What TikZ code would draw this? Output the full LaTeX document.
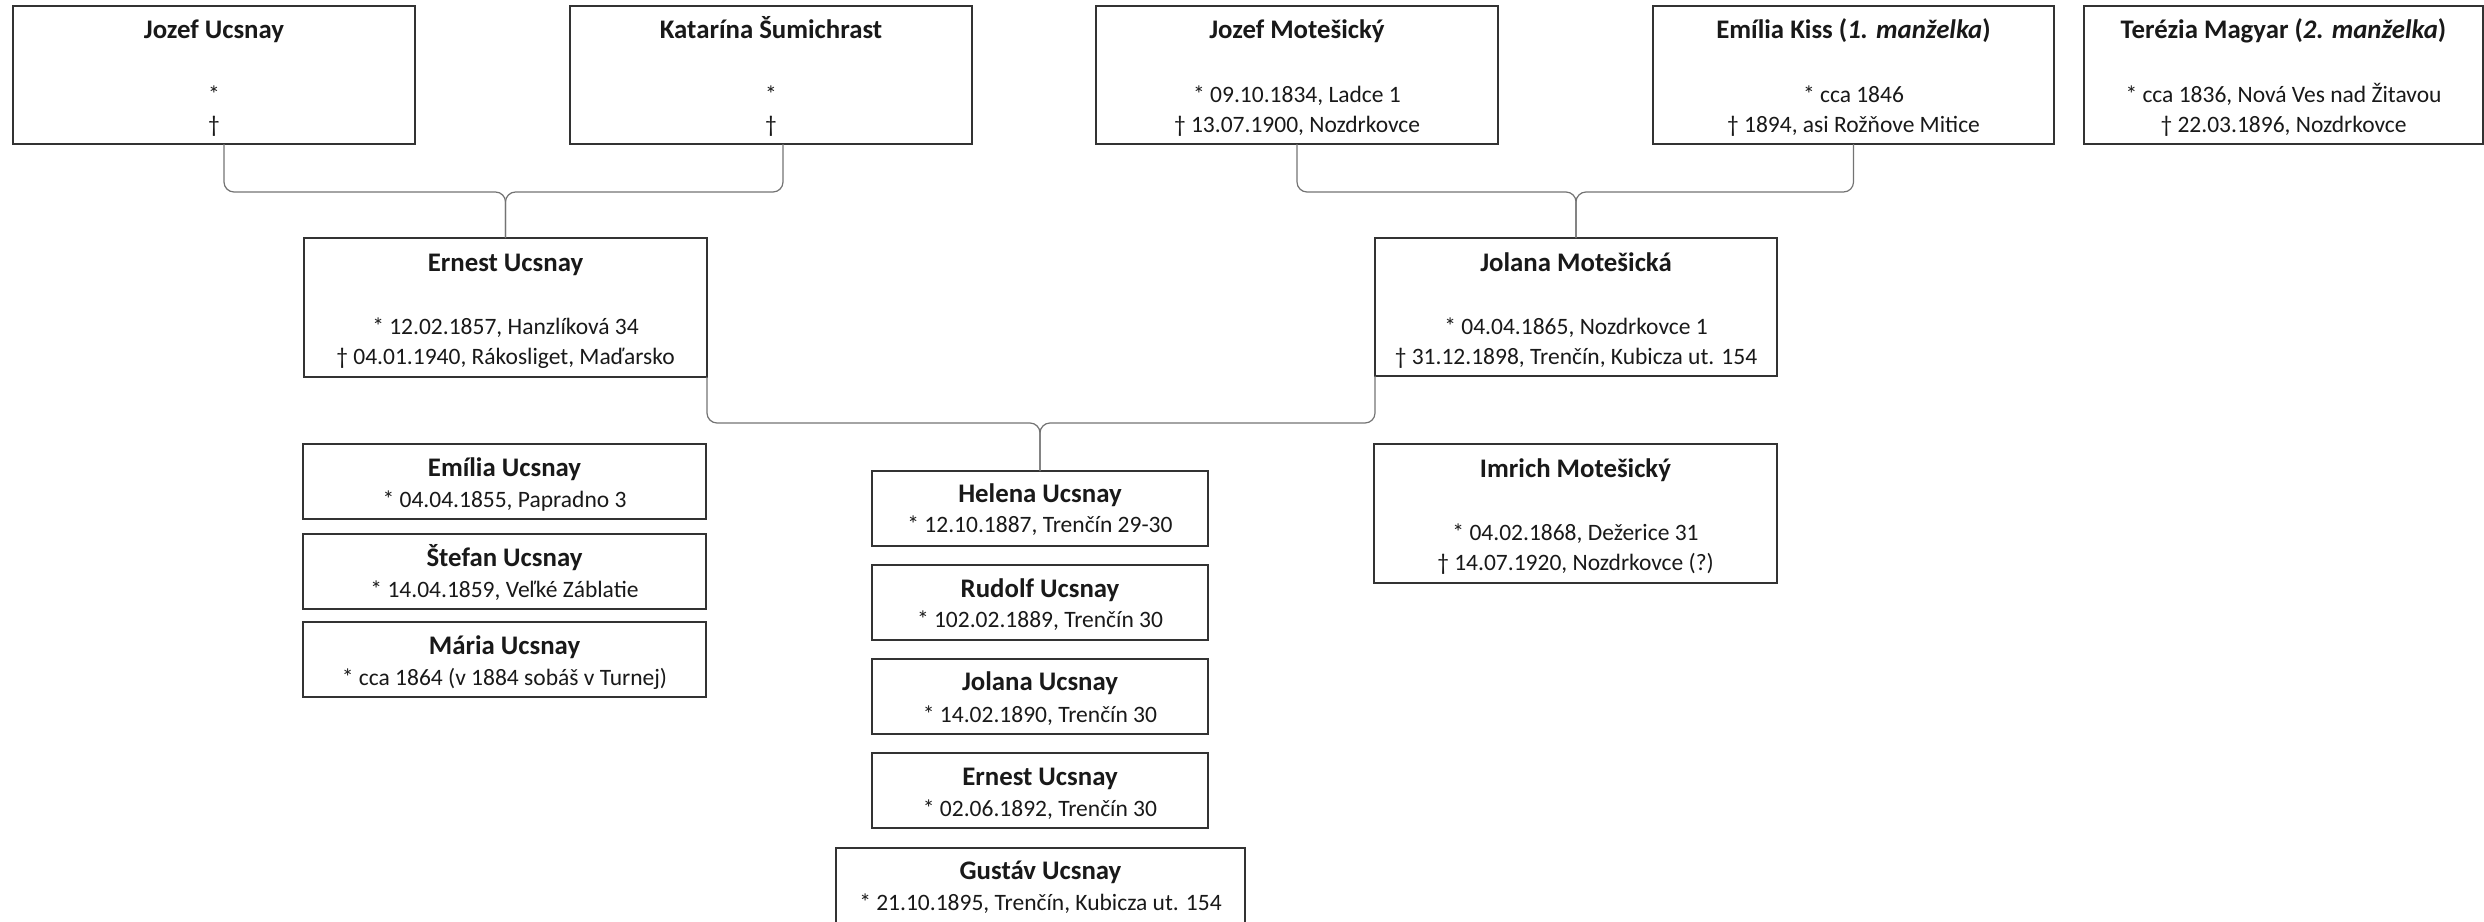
\documentclass[tikz,border=0pt]{standalone}
\usepackage{fontspec}
\setmainfont{Carlito}
\usetikzlibrary{calc}
\begin{document}
\begin{tikzpicture}[x=0.5pt,y=-0.5pt,
  box/.style={draw=black!80, line width=0.85pt, fill=white, inner sep=0pt, outer sep=0pt, anchor=north west},
  bigbox/.style={box, minimum width=201pt, minimum height=69pt},
  smallbox/.style={box, minimum width=201.5pt, minimum height=37.5pt},
  kidbox/.style={box, minimum width=168pt, minimum height=37.5pt},
  nm/.style={anchor=base, font=\fontsize{13.4}{16}\selectfont\bfseries, text=black!90, inner sep=0pt},
  dt/.style={anchor=base, font=\fontsize{11.75}{14}\selectfont, text=black!90, inner sep=0pt},
  conn/.style={draw=black!55, line width=0.6pt, rounded corners=5pt}]

\useasboundingbox (0,0) rectangle (2484,921);

% ---------- top row ----------
\node[bigbox] (ju) at (13,6) {};
\node[bigbox] (ks) at (570,6) {};
\node[bigbox] (jm) at (1096,6) {};
\node[bigbox, minimum width=200.5pt] (ek) at (1653,6) {};
\node[bigbox, minimum width=199.5pt] (tm) at (2084,6) {};

\node[nm] (ju-n) at ([yshift=-16.5pt]ju.north) {Jozef Ucsnay};
\node[dt] (ju-b) at ([yshift=-48pt]ju.north) {*};
\node[dt] (ju-d) at ([yshift=-63pt]ju.north) {†};

\node[nm] (ks-n) at ([yshift=-16.5pt]ks.north) {Katarína Šumichrast};
\node[dt] (ks-b) at ([yshift=-48pt]ks.north) {*};
\node[dt] (ks-d) at ([yshift=-63pt]ks.north) {†};

\node[nm] (jm-n) at ([yshift=-16.5pt]jm.north) {Jozef Motešický};
\node[dt] (jm-b) at ([yshift=-48pt]jm.north) {* 09.10.1834, Ladce 1};
\node[dt] (jm-d) at ([yshift=-63pt]jm.north) {† 13.07.1900, Nozdrkovce};

\node[nm] (ek-n) at ([yshift=-16.5pt]ek.north) {Emília Kiss (\textit{1. manželka})};
\node[dt] (ek-b) at ([yshift=-48pt]ek.north) {* cca 1846};
\node[dt] (ek-d) at ([yshift=-63pt]ek.north) {† 1894, asi Rožňove Mitice};

\node[nm] (tm-n) at ([yshift=-16.5pt]tm.north) {Terézia Magyar (\textit{2. manželka})};
\node[dt] (tm-b) at ([yshift=-48pt]tm.north) {* cca 1836, Nová Ves nad Žitavou};
\node[dt] (tm-d) at ([yshift=-63pt]tm.north) {† 22.03.1896, Nozdrkovce};

% ---------- second row ----------
\node[bigbox, minimum width=201.5pt, minimum height=69.5pt] (eu) at (304,238) {};
\node[bigbox] (jo) at (1375,238) {};

\node[nm] (eu-n) at ([yshift=-16.5pt]eu.north) {Ernest Ucsnay};
\node[dt] (eu-b) at ([yshift=-48pt]eu.north) {* 12.02.1857, Hanzlíková 34};
\node[dt] (eu-d) at ([yshift=-63pt]eu.north) {† 04.01.1940, Rákosliget, Maďarsko};

\node[nm] (jo-n) at ([yshift=-16.5pt]jo.north) {Jolana Motešická};
\node[dt] (jo-b) at ([yshift=-48pt]jo.north) {* 04.04.1865, Nozdrkovce 1};
\node[dt] (jo-d) at ([yshift=-63pt]jo.north) {† 31.12.1898, Trenčín, Kubicza ut. 154};

% ---------- siblings ----------
\node[smallbox] (emu) at (303,444) {};
\node[smallbox] (su) at (303,534) {};
\node[smallbox] (mu) at (303,622) {};
\node[bigbox, minimum width=201.5pt, minimum height=69.5pt] (im) at (1374,444) {};

\node[nm] (emu-n) at ([yshift=-16pt]emu.north) {Emília Ucsnay};
\node[dt] (emu-b) at ([yshift=-31.5pt]emu.north) {* 04.04.1855, Papradno 3};
\node[nm] (su-n) at ([yshift=-16pt]su.north) {Štefan Ucsnay};
\node[dt] (su-b) at ([yshift=-31.5pt]su.north) {* 14.04.1859, Veľké Záblatie};
\node[nm] (mu-n) at ([yshift=-16pt]mu.north) {Mária Ucsnay};
\node[dt] (mu-b) at ([yshift=-31.5pt]mu.north) {* cca 1864 (v 1884 sobáš v Turnej)};

\node[nm] (im-n) at ([yshift=-16.5pt]im.north) {Imrich Motešický};
\node[dt] (im-b) at ([yshift=-48pt]im.north) {* 04.02.1868, Dežerice 31};
\node[dt] (im-d) at ([yshift=-63pt]im.north) {† 14.07.1920, Nozdrkovce (?)};

% ---------- children ----------
\node[kidbox] (hu) at (872,471) {};
\node[kidbox] (ru) at (872,565) {};
\node[kidbox] (jou) at (872,659) {};
\node[kidbox] (eru) at (872,753) {};
\node[kidbox, minimum width=204.5pt] (gu) at (836,848) {};

\node[nm] (hu-n) at ([yshift=-15.5pt]hu.north) {Helena Ucsnay};
\node[dt] (hu-b) at ([yshift=-30.5pt]hu.north) {* 12.10.1887, Trenčín 29-30};
\node[nm] (ru-n) at ([yshift=-16pt]ru.north) {Rudolf Ucsnay};
\node[dt] (ru-b) at ([yshift=-31pt]ru.north) {* 102.02.1889, Trenčín 30};
\node[nm] (jou-n) at ([yshift=-15.5pt]jou.north) {Jolana Ucsnay};
\node[dt] (jou-b) at ([yshift=-31.5pt]jou.north) {* 14.02.1890, Trenčín 30};
\node[nm] (eru-n) at ([yshift=-16pt]eru.north) {Ernest Ucsnay};
\node[dt] (eru-b) at ([yshift=-31.5pt]eru.north) {* 02.06.1892, Trenčín 30};
\node[nm] (gu-n) at ([yshift=-15.5pt]gu.north) {Gustáv Ucsnay};
\node[dt] (gu-b) at ([yshift=-31pt]gu.north) {* 21.10.1895, Trenčín, Kubicza ut. 154};

% ---------- connectors ----------
\coordinate (m1) at (eu.north |- 0,192);
\coordinate (m2) at (jo.north |- 0,192);
\coordinate (m3) at (hu.north |- 0,423);

\draw[conn] ([xshift=5pt]ju.south) |- (m1) -- (eu.north);
\draw[conn] ([xshift=6pt]ks.south) |- (m1) -- (eu.north);
\draw[conn] (jm.south) |- (m2) -- (jo.north);
\draw[conn] (ek.south) |- (m2) -- (jo.north);
\draw[conn] (eu.south east) |- (m3) -- (hu.north);
\draw[conn] (jo.south west) |- (m3) -- (hu.north);
\end{tikzpicture}
\end{document}
